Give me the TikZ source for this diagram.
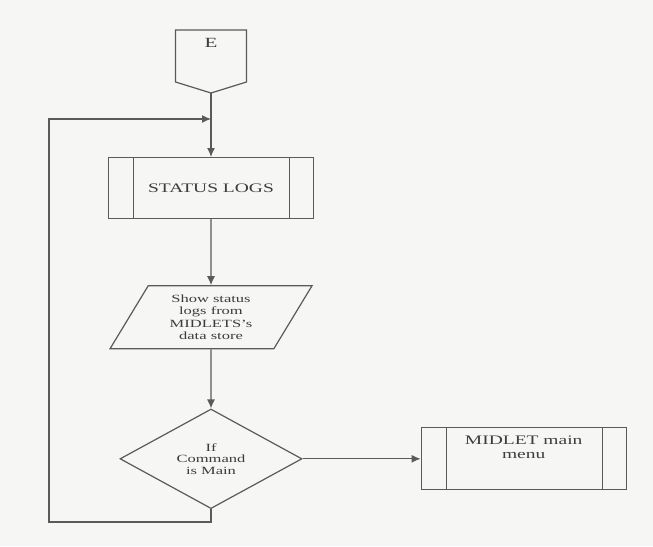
\documentclass[tikz,border=0pt]{standalone}
\usepackage{tikz}
\usepackage{xcolor}
\usepackage{fontspec}
\setmainfont{Liberation Serif}[FakeStretch=1.5]
\usetikzlibrary{calc,
	positioning,
	shapes,
	shapes.geometric,
	arrows.meta}
\definecolor{paper}{RGB}{246,246,244}
\definecolor{inkgray}{RGB}{90,90,90}
\definecolor{textgray}{RGB}{60,60,60}
\newcommand{\bigtext}{\fontsize{13pt}{14.6pt}\selectfont}
\newcommand{\smalltext}{\fontsize{11pt}{12.5pt}\selectfont}
\tikzset{
	line/.style={draw=inkgray, line width=1.2pt},
	procbox/.style={line, rectangle, minimum width=205pt, minimum height=61pt, inner sep=0pt,
		path picture={
			\draw [line] ([xshift=25pt]path picture bounding box.north west) -- ([xshift=25pt]path picture bounding box.south west);
			\draw [line] ([xshift=-24pt]path picture bounding box.north east) -- ([xshift=-24pt]path picture bounding box.south east);
		}},
	iobox/.style={line, trapezium, trapezium left angle=61, trapezium right angle=119, trapezium stretches=true,
		minimum width=202pt, minimum height=63pt, inner sep=0pt, align=center, font=\smalltext},
	decision/.style={line, diamond, minimum width=182pt, minimum height=90pt, inner sep=0pt,
		align=center, font=\fontsize{11pt}{11.5pt}\selectfont}
}

\begin{document}
\begin{tikzpicture}[x=1pt, y=-1pt, >={Latex[length=9pt,width=8pt]}, text=textgray]
		\fill [paper] (0,0) rectangle (653,546);
		\useasboundingbox (0,0) rectangle (653,546);
		% off-page connector
		\coordinate (etip) at (211,93);
		\draw [line] (175.5,30) -- (246.5,30) -- (246.5,82) -- (etip) -- (175.5,82) -- cycle;
		\node [font=\fontsize{14pt}{16pt}\selectfont] (e) at (211,43) {E};
		\coordinate (join) at ($(etip)+(0,26)$);
		\node [procbox, font=\bigtext, below=64pt of etip] (status) {STATUS LOGS};
		\node [iobox, below=66pt of status] (show) {Show status\\logs from\\MIDLETS's\\data store};
		\node [decision, below=59pt of show] (cmd) {If\\Command\\is Main};
		\node [procbox, minimum height=62pt, right=118pt of cmd] (menu) {};
		\node [font=\bigtext, align=center, anchor=north, below=5pt of menu.north] (menutext) {MIDLET main\\menu};
		\coordinate (loopcorner) at (49,522);
		\draw [line, ->] (etip) -- (status);
		\draw [line, ->] (status) -- (show);
		\draw [line, ->] (show) -- (cmd);
		\draw [line, ->] (cmd) -- (menu);
		\draw [line, ->] (cmd.south) |- (loopcorner) |- (join);
	\end{tikzpicture}
\end{document}
